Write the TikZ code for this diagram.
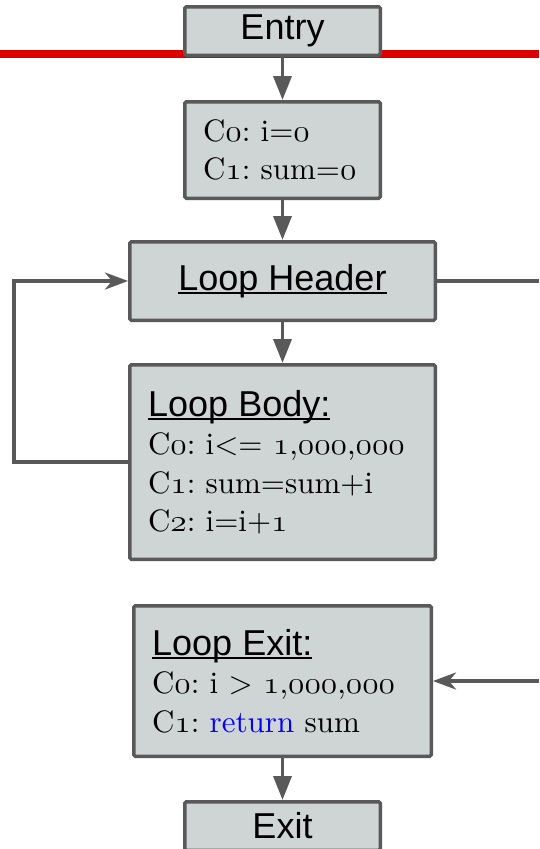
\RequirePackage{fix-cm}
\documentclass[tikz,border=0pt]{standalone}
\usepackage{fontspec}
\usepackage{graphicx}
\newfontfamily\sansfont{Liberation Sans}
% the 10pt design of the serif, a little heavier than the large designs
\newfontfamily\stmtfam{lmroman10-regular.otf}
\usetikzlibrary{arrows.meta}
\frenchspacing

% old-style figures taken from the Computer Modern math italic font
\newcommand\osn[1]{\scalebox{1.08}[1]{\usefont{OML}{cmm}{m}{it}#1}}
% underline that runs close under the baseline
\newcommand\uline[1]{\setbox0\hbox{#1}\rlap{\rule[-3.5pt]{\wd0}{1.8pt}}\box0}
\newcommand\stmtfont{\stmtfam\fontsize{31}{38.5}\selectfont}

\definecolor{boxfill}{HTML}{CFD5D5}
\definecolor{edge}{HTML}{595959}
\definecolor{barred}{HTML}{DD0000}
\definecolor{kw}{HTML}{0000FF}

\tikzset{
  blk/.style={draw=edge, line width=3.5pt, fill=boxfill, rounded corners=1.5pt,
    inner sep=0pt},
  title/.style={blk, font=\sansfont\fontsize{36}{38}\selectfont},
  code/.style={blk, align=left, inner xsep=18.25pt, font=\stmtfont},
  link/.style={draw=edge, line width=3.5pt},
  down/.style={link, -{Triangle[length=24pt,width=18pt]}},
  side/.style={link, -{Stealth[length=23pt,width=17pt,inset=7pt]}},
}

\begin{document}
\begin{tikzpicture}[x=1pt, y=-1pt]
\useasboundingbox (0,0) rectangle (539,849);

% red rule across the top
\draw[barred, line width=8pt] (0,54) -- (539,54);

% blocks
\node[title, minimum width=195.5pt, minimum height=48.5pt] (entry) at (282.5,31) {Entry};
\node[code, minimum width=195.5pt, minimum height=96.5pt, text width=159pt]
  (init) at (282.5,150)
  {C\osn{0}: i=\osn{0}\\ \mbox{C\osn{1}: sum=\osn{0}}};
\node[title, minimum width=305.5pt, minimum height=78.5pt] (header) at (282.5,281)
  {\uline{Loop Header}};
\node[code, minimum width=305.5pt, minimum height=194.5pt, text width=269pt]
  (body) at (282.5,462)
  {{\sansfont\fontsize{36}{38.5}\selectfont\uline{Loop Body:}}\\
   C\osn{0}: i<= \osn{1},\osn{000},\osn{000}\\
   C\osn{1}: sum=sum+i\\
   C\osn{2}: i=i+\osn{1}};
\node[code, minimum width=297.5pt, minimum height=150.5pt, text width=261pt]
  (exitblk) at (282.5,681)
  {{\sansfont\fontsize{36}{38.5}\selectfont\uline{Loop Exit:}}\\
   C\osn{0}: i > \osn{1},\osn{000},\osn{000}\\
   C\osn{1}: \textcolor{kw}{return} sum};
\node[title, minimum width=195.5pt, minimum height=48.5pt] (exit) at (282.5,826) {Exit};

% loose ends at the right margin
\coordinate (hdrout) at (539,281);
\coordinate (exin) at (539,681);

% edges
\draw[down] (entry.south) -- (init.north);
\draw[down] (init.south) -- (header.north);
\draw[down] (header.south) -- (body.north);
\draw[side] (body.west) -- ++(-114,0) |- (header.west);
\draw[link] (header.east) -- (hdrout);
\draw[side] (exin) -- (exitblk.east);
\draw[down] (exitblk.south) -- (exit.north);
\end{tikzpicture}
\end{document}
